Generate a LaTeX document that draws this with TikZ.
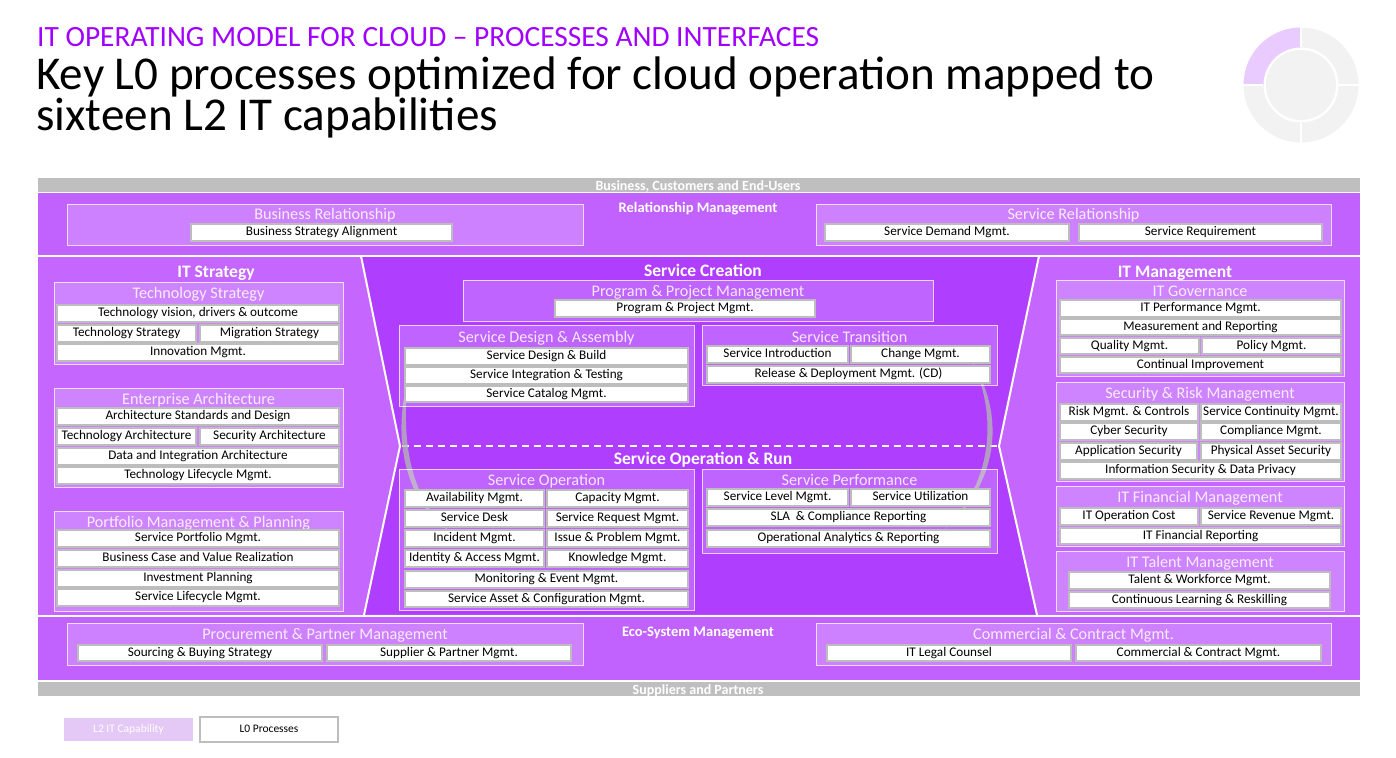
\documentclass[tikz,border=0pt]{standalone}
\usepackage{fontspec}
\setmainfont{Carlito}

\definecolor{accent}{HTML}{A100FF}
\definecolor{bandpurple}{HTML}{C162FF}
\definecolor{sidepurple}{HTML}{C466FF}
\definecolor{corepurple}{HTML}{B03EFF}
\definecolor{bandgray}{HTML}{BFBFBF}
\definecolor{procline}{HTML}{BDBDBD}
\definecolor{legendfill}{HTML}{E4C8F5}
\definecolor{ringgray}{HTML}{B4B4B4}
\definecolor{donutgray}{HTML}{F2F2F2}
\definecolor{donutpurple}{HTML}{EACBFF}

\tikzset{
  proc/.style={draw=procline, fill=white, line width=1.1pt, inner sep=0pt,
    text=black, font=\fontsize{13.2}{14}\selectfont, text height=9pt, text depth=3pt},
  capframe/.style={draw=white, draw opacity=0.75, fill=white, fill opacity=0.2,
    line width=1pt, inner sep=0pt},
  captitle/.style={anchor=base, inner sep=0pt, text=white, text opacity=0.85,
    font=\fontsize{16.2}{18}\selectfont},
  head/.style={anchor=base, inner sep=0pt, text=white, font=\bfseries\fontsize{17.5}{19}\selectfont},
  bandlabel/.style={anchor=base, inner sep=0pt, text=white, font=\bfseries\fontsize{14.5}{16}\selectfont},
  graylabel/.style={anchor=base, inner sep=0pt, text=white, font=\bfseries\fontsize{14}{16}\selectfont},
}

% process box: name, x1, y1, x2, y2, text
\newcommand\procbox[6]{%
  \node[proc, minimum width={(#4-#2)*1pt}, minimum height={(#5-#3)*1pt}]
    (#1) at ({(#2+#4)/2},{(#3+#5)/2}) {#6};}
% capability box: name, x1, y1, x2, y2, title, title baseline
\newcommand\capbox[7]{%
  \node[capframe, minimum width={(#4-#2)*1pt}, minimum height={(#5-#3)*1pt}]
    (#1) at ({(#2+#4)/2},{(#3+#5)/2}) {};
  \node[captitle] (#1-title) at ({(#2+#4)/2},#7) {#6};}

\begin{document}
\begin{tikzpicture}[x=1pt,y=-1pt]
\useasboundingbox (0,0) rectangle (1396,757);

% ---- heading ----
\node[anchor=base west, inner sep=0pt, text=accent, font=\fontsize{29.4}{32}\selectfont]
  (kicker) at (37,47) {IT OPERATING MODEL FOR CLOUD – PROCESSES AND INTERFACES};
% two-line title; the base anchor sits on the last line
\node[anchor=base west, inner sep=0pt, align=left, font=\fontsize{47.1}{38}\selectfont]
  (title) at (36,131) {Key L0 processes optimized for cloud operation mapped to\\sixteen L2 IT capabilities};

% ---- progress donut ----
\fill[donutgray] (1301,85) circle (57.5);
\fill[donutpurple] (1301,85) -- (1301,27.5) arc[start angle=-90, end angle=-180, radius=57.5] -- cycle;
\fill[white] (1301,85) circle (37.5);
\fill[donutgray] (1301,85) circle (35);
\draw[white, line width=2.4pt] (1301,47) -- (1301,26) (1301,123) -- (1301,144)
  (1263,85) -- (1242,85) (1339,85) -- (1360,85);

% ---- bands ----
\fill[bandgray] (38,178) rectangle (1360,191.5);
\fill[bandpurple] (38,192.5) rectangle (1360,255);
\fill[bandpurple] (38,616.5) rectangle (1360,680);
\fill[bandgray] (38,681.5) rectangle (1360,695.5);
\node[graylabel] (customers) at (698,190) {Business, Customers and End-Users};
\node[graylabel] (suppliers) at (698,694) {Suppliers and Partners};
\node[bandlabel] (relmgmt) at (698,212) {Relationship Management};
\node[bandlabel] (ecomgmt) at (698,636) {Eco-System Management};

% ---- middle section ----
\fill[sidepurple] (38,257) rectangle (1360,614.5);
\fill[corepurple] (361,257) -- (1039,257) -- (999,446) -- (1037,614.5)
  -- (364,614.5) -- (400,446) -- cycle;
\draw[white, line width=2pt] (361,256) -- (400,446) -- (364,615);
\draw[white, line width=2pt] (1039,256) -- (999,446) -- (1037,615);
\draw[white, line width=2pt, dash pattern=on 7pt off 5pt] (402,446) -- (998,446);

% cycle arcs between creation and run
\fill[ringgray, opacity=0.8] (408,380) .. controls (395,425) and (397,500) .. (455,535)
  .. controls (403,498) and (403,425) .. (408,380) -- cycle;
\fill[ringgray, opacity=0.8] (972,362) .. controls (1003,410) and (1003,480) .. (944,530)
  .. controls (996,480) and (996,410) .. (972,362) -- cycle;

\node[head] (itstrategy) at (216,277) {IT Strategy};
\node[head] (creation) at (703,276) {Service Creation};
\node[head] (run) at (703,464) {Service Operation \& Run};
\node[head] (itmgmt) at (1175,277) {IT Management};

% ---- relationship band ----
\capbox{brel}{67}{204}{583}{245}{Business Relationship}{219.5}
\procbox{bsa}{191}{224}{452}{241}{Business Strategy Alignment}
\capbox{srel}{816}{204}{1331}{245}{Service Relationship}{219.5}
\procbox{sdm}{825}{224}{1069}{241}{Service Demand Mgmt.}
\procbox{sreq}{1079}{224}{1322}{241}{Service Requirement}

% ---- IT strategy ----
\capbox{techs}{54}{282}{343}{364}{Technology Strategy}{298.5}
\procbox{ts1}{57}{305}{339}{322}{Technology vision, drivers \& outcome}
\procbox{ts2}{57}{325}{196}{342}{Technology Strategy}
\procbox{ts3}{200}{325}{339}{342}{Migration Strategy}
\procbox{ts4}{57}{344}{339}{361}{Innovation Mgmt.}

\capbox{ea}{54}{388}{343}{487}{Enterprise Architecture}{404.5}
\procbox{ea1}{57}{408}{339}{425}{Architecture Standards and Design}
\procbox{ea2}{57}{428}{196}{445}{Technology Architecture}
\procbox{ea3}{200}{428}{339}{445}{Security Architecture}
\procbox{ea4}{57}{448}{339}{465}{Data and Integration Architecture}
\procbox{ea5}{57}{467}{339}{484}{Technology Lifecycle Mgmt.}

\capbox{pmp}{54}{511}{343}{611}{Portfolio Management \& Planning}{527.5}
\procbox{pm1}{57}{530}{339}{547}{Service Portfolio Mgmt.}
\procbox{pm2}{57}{550}{339}{567}{Business Case and Value Realization}
\procbox{pm3}{57}{570}{339}{587}{Investment Planning}
\procbox{pm4}{57}{589}{339}{606}{Service Lifecycle Mgmt.}

% ---- service creation ----
\capbox{ppm}{463}{280}{933}{321}{Program \& Project Management}{296.5}
\procbox{pp1}{555}{300}{815}{317}{Program \& Project Mgmt.}

\capbox{sda}{399}{325}{694}{406}{Service Design \& Assembly}{342.5}
\procbox{sd1}{405}{348}{688}{365}{Service Design \& Build}
\procbox{sd2}{405}{367}{688}{384}{Service Integration \& Testing}
\procbox{sd3}{405}{386}{688}{402}{Service Catalog Mgmt.}

\capbox{stt}{702}{325}{997}{385}{Service Transition}{342.5}
\procbox{st1}{707}{346}{848}{363}{Service Introduction}
\procbox{st2}{851}{346}{990}{363}{Change Mgmt.}
\procbox{st3}{707}{366}{990}{383}{Release \& Deployment Mgmt. (CD)}

% ---- service operation & run ----
\capbox{sop}{399}{469}{694}{610}{Service Operation}{485.5}
\procbox{so1}{405}{490}{544}{507}{Availability Mgmt.}
\procbox{so2}{547}{490}{688}{507}{Capacity Mgmt.}
\procbox{so3}{405}{510}{544}{527}{Service Desk}
\procbox{so4}{547}{510}{688}{527}{Service Request Mgmt.}
\procbox{so5}{405}{530}{544}{547}{Incident Mgmt.}
\procbox{so6}{547}{530}{688}{547}{Issue \& Problem Mgmt.}
\procbox{so7}{405}{550}{544}{567}{Identity \& Access Mgmt.}
\procbox{so8}{547}{550}{688}{567}{Knowledge Mgmt.}
\procbox{so9}{405}{571}{688}{588}{Monitoring \& Event Mgmt.}
\procbox{so10}{405}{591}{688}{607}{Service Asset \& Configuration Mgmt.}

\capbox{spf}{702}{469}{997}{553}{Service Performance}{485.5}
\procbox{sp1}{707}{489}{848}{506}{Service Level Mgmt.}
\procbox{sp2}{851}{489}{990}{506}{Service Utilization}
\procbox{sp3}{707}{509}{990}{526}{SLA\ \ \& Compliance Reporting}
\procbox{sp4}{707}{530}{990}{547}{Operational Analytics \& Reporting}

% ---- IT management ----
\capbox{gov}{1056}{280}{1344}{376}{IT Governance}{296.5}
\procbox{g1}{1060}{300}{1341}{317}{IT Performance Mgmt.}
\procbox{g2}{1060}{319}{1341}{335}{Measurement and Reporting}
\procbox{g3}{1060}{338}{1199}{354}{Quality Mgmt.}
\procbox{g4}{1202}{338}{1341}{354}{Policy Mgmt.}
\procbox{g5}{1060}{357}{1341}{373}{Continual Improvement}

\capbox{srm}{1056}{382}{1344}{481}{Security \& Risk Management}{398.5}
\procbox{r1}{1060}{404}{1198}{421}{Risk Mgmt. \& Controls}
\procbox{r2}{1201}{404}{1341}{421}{Service Continuity Mgmt.}
\procbox{r3}{1060}{423}{1198}{440}{Cyber Security}
\procbox{r4}{1201}{423}{1341}{440}{Compliance Mgmt.}
\procbox{r5}{1060}{443}{1197}{460}{Application Security}
\procbox{r6}{1201}{443}{1341}{460}{Physical Asset Security}
\procbox{r7}{1060}{462}{1341}{479}{Information Security \& Data Privacy}

\capbox{fin}{1056}{486}{1344}{546}{IT Financial Management}{502.5}
\procbox{f1}{1060}{508}{1198}{525}{IT Operation Cost}
\procbox{f2}{1201}{508}{1341}{525}{Service Revenue Mgmt.}
\procbox{f3}{1060}{528}{1341}{544}{IT Financial Reporting}

\capbox{tal}{1056}{551}{1344}{611}{IT Talent Management}{567.5}
\procbox{t1}{1069}{572}{1330}{589}{Talent \& Workforce Mgmt.}
\procbox{t2}{1069}{592}{1330}{608}{Continuous Learning \& Reskilling}

% ---- eco-system band ----
\capbox{ppmg}{67}{623}{583}{665}{Procurement \& Partner Management}{639.5}
\procbox{sbs}{78}{645}{322}{661}{Sourcing \& Buying Strategy}
\procbox{spm}{327}{645}{571}{661}{Supplier \& Partner Mgmt.}
\capbox{ccm}{816}{623}{1331}{665}{Commercial \& Contract Mgmt.}{639.5}
\procbox{itl}{827}{645}{1071}{661}{IT Legal Counsel}
\procbox{ccp}{1076}{645}{1321}{661}{Commercial \& Contract Mgmt.}

% ---- legend ----
\node[fill=legendfill, draw=white, line width=0.8pt, inner sep=0pt, text=white,
  font=\fontsize{11.5}{13}\selectfont, minimum width=130pt, minimum height=24pt]
  (legcap) at (128.5,729) {L2 IT Capability};
\node[proc, font=\fontsize{11.5}{13}\selectfont, minimum width=138pt, minimum height=25pt]
  (legproc) at (269,729.5) {L0 Processes};
\end{tikzpicture}
\end{document}
